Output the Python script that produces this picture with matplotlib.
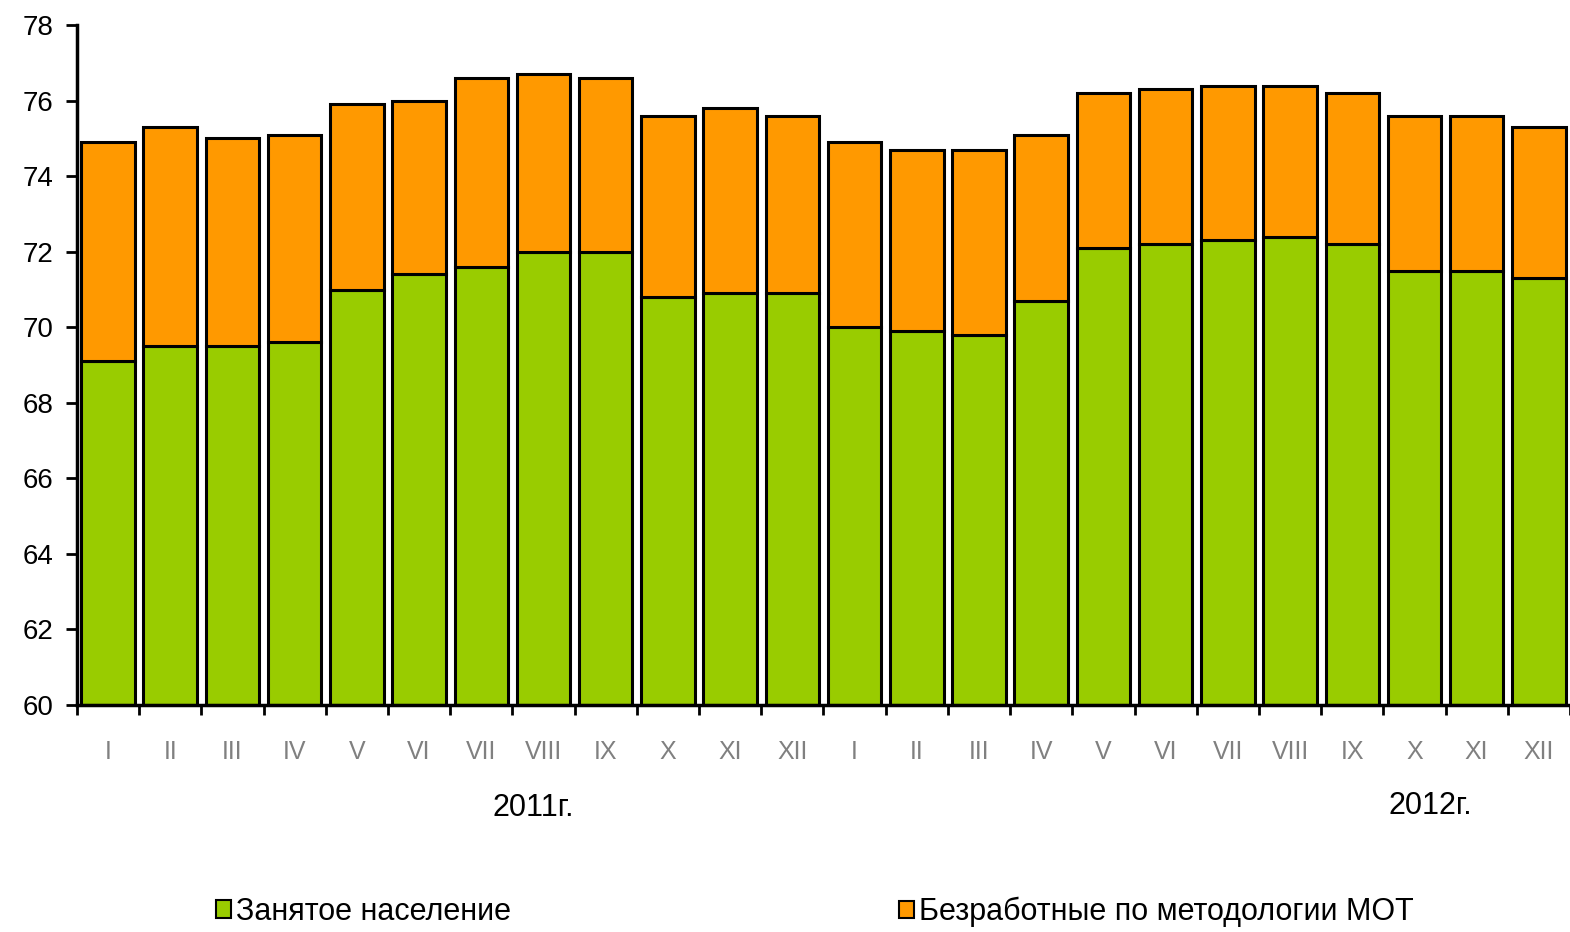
import numpy as np
import matplotlib.pyplot as plt
from matplotlib.patches import Patch
import matplotlib.transforms as mtransforms

plt.rcParams['font.family'] = ['Liberation Sans Narrow', 'Liberation Sans', 'DejaVu Sans']

months = ['I', 'II', 'III', 'IV', 'V', 'VI', 'VII', 'VIII', 'IX', 'X', 'XI', 'XII'] * 2
employed = [69.1, 69.5, 69.5, 69.6, 71.0, 71.4, 71.6, 72.0, 72.0, 70.8, 70.9, 70.9,
            70.0, 69.9, 69.8, 70.7, 72.1, 72.2, 72.3, 72.4, 72.2, 71.5, 71.5, 71.3]
total = [74.9, 75.3, 75.0, 75.1, 75.9, 76.0, 76.6, 76.7, 76.6, 75.6, 75.8, 75.6,
         74.9, 74.7, 74.7, 75.1, 76.2, 76.3, 76.4, 76.4, 76.2, 75.6, 75.6, 75.3]
unemployed = [t - e for t, e in zip(total, employed)]
years = ['2011г.', '2012г.']

green = '#99CC00'
orange = '#FF9900'

fig = plt.figure(figsize=(15.7, 9.32), dpi=100)
ax = fig.add_axes([0.049, 0.2436, 0.951, 0.7294])

x = np.arange(len(months))
ax.bar(x, [e - 60 for e in employed], bottom=60, width=0.86, color=green,
       edgecolor='black', linewidth=2.2)
ax.bar(x, unemployed, bottom=employed, width=0.86, color=orange,
       edgecolor='black', linewidth=2.2)

ax.set_ylim(60, 78)
ax.set_xlim(-0.5, len(months) - 0.5)
ax.set_yticks(range(60, 79, 2))
ax.tick_params(axis='y', labelsize=20, length=8, width=2, pad=9)

ax.set_xticks(np.arange(-0.5, len(months), 1.0))
ax.set_xticklabels([])
ax.tick_params(axis='x', which='major', length=7, width=2)
ax.set_xticks(x, minor=True)
ax.set_xticklabels(months, minor=True)
ax.tick_params(axis='x', which='minor', length=0, pad=25, labelsize=18, labelcolor='#808080')

for s in ['top', 'right']:
    ax.spines[s].set_visible(False)
ax.spines['left'].set_linewidth(2.5)
ax.spines['bottom'].set_linewidth(2.5)

trans = mtransforms.blended_transform_factory(ax.transData, fig.transFigure)
ax.text(6.83, 1 - 808 / 932, years[0], transform=trans, ha='center', va='center', fontsize=22)
ax.text(21.25, 1 - 806 / 932, years[1], transform=trans, ha='center', va='center', fontsize=22)

h1 = [Patch(facecolor=green, edgecolor='black', linewidth=1.5)]
h2 = [Patch(facecolor=orange, edgecolor='black', linewidth=1.5)]
fig.legend(h1, ['Занятое население'], loc='center left', bbox_to_anchor=(0.12, 1 - 912 / 932),
           frameon=False, fontsize=22, handlelength=0.5, handleheight=0.5, handletextpad=0.15)
fig.legend(h2, ['Безработные по методологии МОТ'], loc='center left',
           bbox_to_anchor=(0.555, 1 - 912 / 932),
           frameon=False, fontsize=22, handlelength=0.5, handleheight=0.5, handletextpad=0.15)

fig.savefig('out.png', dpi=100)
